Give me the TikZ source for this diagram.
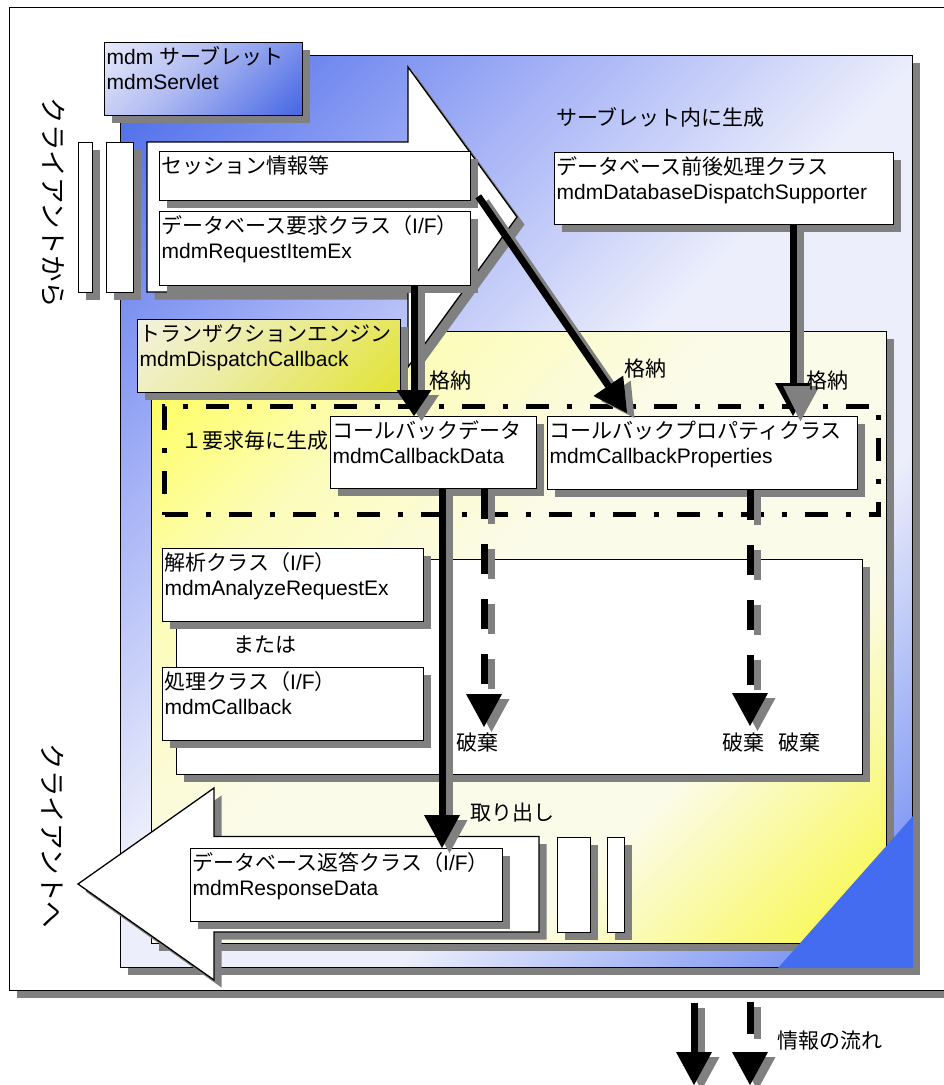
\documentclass[tikz,border=0pt]{standalone}
\usepackage{fontspec}
\setmainfont{Liberation Sans}
\newfontfamily\jpf{Noto Sans CJK JP}
\usetikzlibrary{shadows,arrows.meta}
\definecolor{shgray}{RGB}{128,128,128}
\definecolor{svblue}{RGB}{66,100,232}
\definecolor{svmid}{RGB}{160,174,246}
\definecolor{svlite}{RGB}{236,238,251}
\definecolor{svblueb}{RGB}{90,122,240}
\definecolor{ylw}{RGB}{255,255,70}
\definecolor{ylmid}{RGB}{252,252,185}
\definecolor{ylite}{RGB}{251,251,234}
\definecolor{ylwb}{RGB}{248,248,55}
\definecolor{lbllite}{RGB}{234,236,251}
\definecolor{lblmid}{RGB}{175,186,242}
\definecolor{lblblue}{RGB}{66,100,228}
\definecolor{txlite}{RGB}{242,242,226}
\definecolor{txmid}{RGB}{236,236,160}
\definecolor{txyl}{RGB}{226,226,50}
\definecolor{cornerblue}{RGB}{68,108,240}
\pgfdeclarehorizontalshading{svshade}{100bp}{color(0bp)=(svblue); color(14bp)=(svblue); color(32bp)=(svmid); color(48bp)=(svlite); color(64bp)=(svlite); color(86bp)=(svblueb); color(100bp)=(svblueb)}
\pgfdeclarehorizontalshading{ylshade}{100bp}{color(0bp)=(ylw); color(14bp)=(ylw); color(30bp)=(ylmid); color(45bp)=(ylite); color(66bp)=(ylite); color(86bp)=(ylwb); color(100bp)=(ylwb)}
\pgfdeclarehorizontalshading{lblshade}{100bp}{color(0bp)=(lbllite); color(14bp)=(lbllite); color(45bp)=(lblmid); color(86bp)=(lblblue); color(100bp)=(lblblue)}
\pgfdeclarehorizontalshading{txshade}{100bp}{color(0bp)=(txlite); color(14bp)=(txlite); color(45bp)=(txmid); color(86bp)=(txyl); color(100bp)=(txyl)}
\newcommand\btxt[3]{\begin{minipage}[c][#2][t]{#1}\leftskip=2pt\rule{0pt}{22pt}#3\end{minipage}}
\newcommand\flowline[3][]{%
  \draw[flow, color=shgray, #1] ([shift={(7.5,5)}]#2) -- ([shift={(7.5,5)}]#3);
  \draw[flow, color=black, #1] (#2) -- (#3);}
\tikzset{
  shd/.style={drop shadow={shadow xshift=7.5pt,shadow yshift=-7.5pt,fill=shgray,opacity=1}},
  panel/.style={draw, line width=1.3pt, inner sep=0pt, anchor=north west, shd, font=\fontsize{21}{25}\selectfont},
  cbox/.style={panel, fill=white},
  lbl/.style={font=\jpf\fontsize{21}{25}\selectfont, inner sep=0pt},
  vlbl/.style={font=\jpf\fontsize{26.5}{30}\selectfont, inner sep=0pt, rotate=-90},
  flow/.style={line width=7pt, -{Triangle[length=33pt,width=36pt,line width=0pt]}},
  dashdot/.style={draw, line width=5pt, dash pattern=on 23pt off 18pt on 5pt off 18pt, inner sep=0pt, anchor=north west},
}
\begin{document}
\begin{tikzpicture}[x=1pt,y=-1pt]
\useasboundingbox (0,0) rectangle (944,1085);
\fill[white] (0,0) rectangle (944,1085);
% outer frame
\node[cbox, minimum width=1000pt, minimum height=983pt] (frame) at (9,7) {};
% servlet panel
\node[panel, shading=svshade, shading angle=-45, minimum width=792pt, minimum height=912pt] (servlet) at (120,55) {};
\node[panel, shading=lblshade, shading angle=-45] (svlabel) at (104,42) {\btxt{198pt}{73pt}{mdm {\jpf サーブレット}\\mdmServlet}};
% transaction engine panel
\node[panel, shading=ylshade, shading angle=-45, minimum width=735pt, minimum height=612pt] (txpanel) at (151,331) {};
% request arrow
\draw[line width=1.3pt, fill=white, shd] (147,142) -- (408,142) -- (408,67) -- (517,217) -- (408,367) -- (408,292) -- (147,292) -- cycle;
\node[cbox, minimum width=14pt, minimum height=150pt] (rq1) at (78,142) {};
\node[cbox, minimum width=27pt, minimum height=150pt] (rq2) at (106,142) {};
\node[cbox] (sess) at (159,151) {\btxt{311pt}{49pt}{{\jpf セッション情報等}}};
\node[cbox] (req) at (159,211) {\btxt{311pt}{74pt}{{\jpf データベース要求クラス（}I/F{\jpf ）}\\mdmRequestItemEx}};
\node[cbox] (dbsupp) at (554,152) {\btxt{339pt}{72pt}{{\jpf データベース前後処理クラス}\\mdmDatabaseDispatchSupporter}};
\node[panel, shading=txshade, shading angle=-45] (txlabel) at (137,319) {\btxt{263pt}{73pt}{{\jpf トランザクションエンジン}\\mdmDispatchCallback}};
% per request area
\node[dashdot, minimum width=714pt, minimum height=108pt] (perreq) at (162,404) {};
\node[lbl, anchor=west] (perreqtxt) at (181,441) {１要求毎に生成};
\node[cbox] (cbdata) at (330,416) {\btxt{206pt}{72pt}{{\jpf コールバックデータ}\\mdmCallbackData}};
\node[cbox] (cbprop) at (547,416) {\btxt{310pt}{73pt}{{\jpf コールバックプロパティクラス}\\mdmCallbackProperties}};
% analysis area
\node[cbox, minimum width=686pt, minimum height=215pt] (anapanel) at (176,559) {};
\node[cbox] (anal) at (162,548) {\btxt{261pt}{73pt}{{\jpf 解析クラス（}I/F{\jpf ）}\\mdmAnalyzeRequestEx}};
\node[lbl] (or) at (265,645) {または};
\node[cbox] (proc) at (162,667) {\btxt{261pt}{73pt}{{\jpf 処理クラス（}I/F{\jpf ）}\\mdmCallback}};
% response arrow
\draw[line width=1.3pt, fill=white, shd] (78,884) -- (214,788) -- (214,836.5) -- (539,836.5) -- (539,932) -- (214,932) -- (214,980) -- cycle;
\node[cbox, minimum width=33pt, minimum height=95.5pt] (rs1) at (557,836.5) {};
\node[cbox, minimum width=17pt, minimum height=95.5pt] (rs2) at (607,836.5) {};
\node[cbox] (resp) at (190,848) {\btxt{312pt}{73pt}{{\jpf データベース返答クラス（}I/F{\jpf ）}\\mdmResponseData}};
% corner
\fill[cornerblue] (913,816) -- (913,968) -- (778,968) -- cycle;
% connectors
\coordinate (x414) at (414,0);
\coordinate (x793) at (793,0);
\coordinate (x442) at (442,0);
\coordinate (x484) at (484,0);
\coordinate (x750) at (750,0);
\coordinate (a1s) at (req.south -| x414);
\coordinate (a1e) at (cbdata.north -| x414);
\coordinate (a2s) at ([shift={(7,-5)}]sess.south east);
\coordinate (a2e) at ([shift={(80,-3)}]cbprop.north west);
\coordinate (a3s) at (dbsupp.south -| x793);
\coordinate (a3e) at (cbprop.north -| x793);
\coordinate (a4s) at (cbdata.south -| x442);
\coordinate (a4e) at (resp.north -| x442);
\coordinate (a5s) at (cbdata.south -| x484);
\coordinate (a5e) at (484,727);
\coordinate (a6s) at (cbprop.south -| x750);
\coordinate (a6e) at (750,726);
\flowline[-{Triangle[length=26pt,width=35pt,line width=0pt]}]{a1s}{a1e}
\flowline{a2s}{a2e}
\flowline{a3s}{a3e}
\fill[shgray] (783,386) -- (818,386) -- (800.5,421) -- cycle;
\flowline{a4s}{a4e}
\flowline[dash pattern=on 30pt off 25pt]{a5s}{a5e}
\flowline[dash pattern=on 30pt off 25pt]{a6s}{a6e}
% labels
\node[lbl] (store1) at (450,381) {格納};
\node[lbl] (store2) at (645,369) {格納};
\node[lbl] (store3) at (827,381) {格納};
\node[lbl] (takeout) at (512,813) {取り出し};
\node[lbl] (disc1) at (477,742) {破棄};
\node[lbl] (disc2) at (743,742) {破棄};
\node[lbl] (disc3) at (799,742) {破棄};
\node[lbl, anchor=west] (gen) at (556,117) {サーブレット内に生成};
\node[vlbl] (cfrom) at (53,203) {クライアントから};
\node[vlbl] (cto) at (53,836) {クライアントへ};
% legend
\coordinate (lg1s) at (694,1003);
\coordinate (lg1e) at (694,1085);
\coordinate (lg2s) at (750,1002);
\coordinate (lg2e) at (750,1085);
\flowline{lg1s}{lg1e}
\flowline[dash pattern=on 32pt off 25pt]{lg2s}{lg2e}
\node[lbl] (legend) at (830,1041) {情報の流れ};
\end{tikzpicture}
\end{document}
